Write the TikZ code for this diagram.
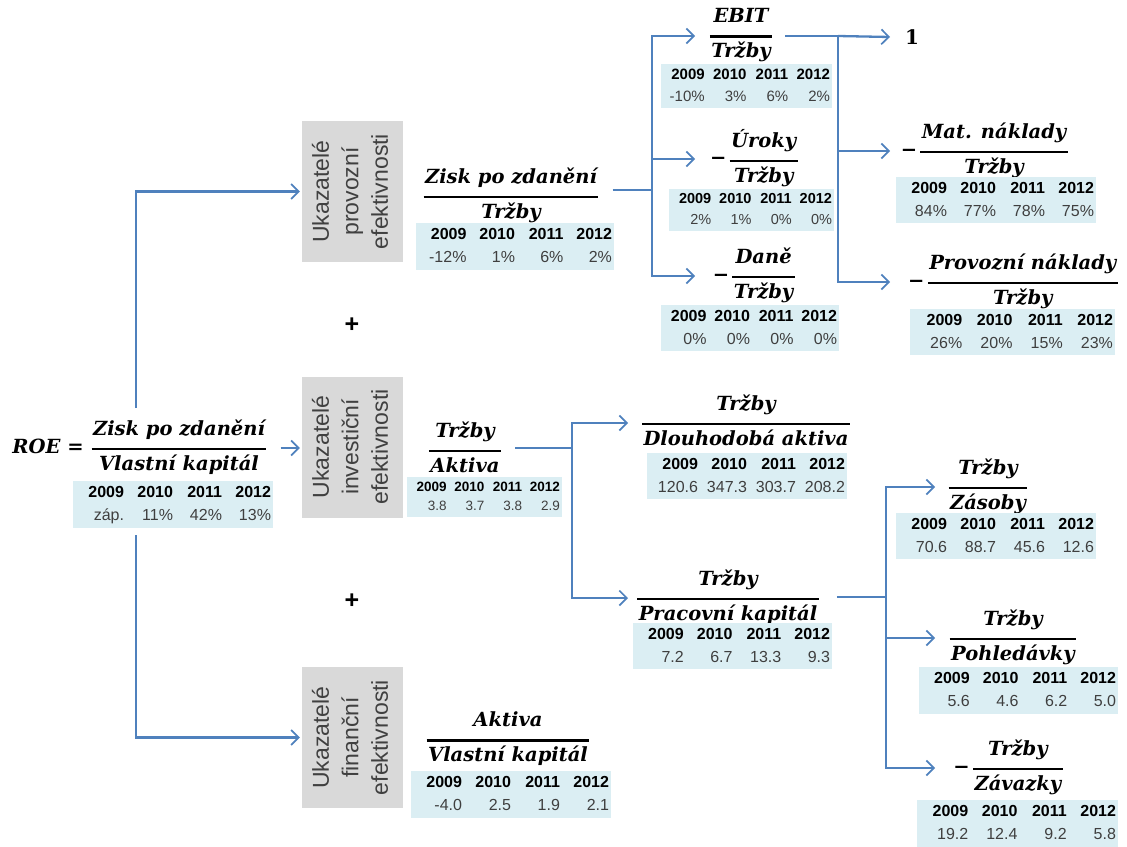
\documentclass[tikz,border=0pt]{standalone}
\usepackage{fontspec}
\usepackage{graphicx}
\setmainfont{Liberation Sans}
\newfontfamily\fracfont{DejaVu Serif}
\usetikzlibrary{arrows.meta}

\definecolor{linkblue}{HTML}{4F81BD}
\definecolor{tabblue}{HTML}{DBEEF3}
\definecolor{boxgray}{HTML}{D9D9D9}
\definecolor{valgray}{HTML}{3F3F3F}
\definecolor{boxtext}{HTML}{404040}

% serif bold italic used for all ratios
\newcommand\ffs{\fracfont\bfseries\itshape\fontsize{19.5}{21}\selectfont}
% a ratio: numerator over a thick bar over denominator
\newcommand\fr[2]{{\setlength\arrayrulewidth{2.5pt}\renewcommand\arraystretch{1}%
  \begin{tabular}{@{\hspace{1.5pt}}c@{\hspace{1.5pt}}}#1\\[6pt]\hline\rule{0pt}{20pt}#2\end{tabular}}}
% one row of four right-aligned cells
\newcommand\yrs[5]{\makebox[#1][r]{#2}\makebox[#1][r]{#3}\makebox[#1][r]{#4}\makebox[#1][r]{#5}}
% yearly values: name, centre, width, height, font size, four values
\newcommand\datatab[9]{%
  \pgfmathsetmacro\tabcw{(#3-4)/4}%
  \pgfmathsetmacro\tabbs{1.45*#5}%
  \node[tabbox, minimum width=#3pt, minimum height=#4pt] (#1) at (#2)
    {\fontsize{#5}{\tabbs}\selectfont\begin{tabular}{@{}l@{}}\bfseries\yrs{\tabcw pt}{2009}{2010}{2011}{2012}\\
     \color{valgray}\yrs{\tabcw pt}{#6}{#7}{#8}{#9}\end{tabular}};}
% label of a gray group box, set upright along the box
\newcommand\grouplabel[3]{\rotatebox{90}{\begin{tabular}{@{}c@{}}#1\\#2\\#3\end{tabular}}}

\tikzset{
  tabbox/.style={fill=tabblue, inner sep=0pt},
  grbox/.style={fill=boxgray, inner sep=0pt, minimum width=101pt, minimum height=141pt,
    text=boxtext, font=\fontsize{23}{29.5}\selectfont},
  ratio/.style={inner sep=0pt, font=\ffs},
  conn/.style={draw=linkblue, line width=2.3pt},
  arr/.style={conn, -{Straight Barb[length=7.5pt,width=15pt,line width=1.7pt]}},
  plus/.style={font=\bfseries\fontsize{25}{25}\selectfont},
}

\begin{document}
\begin{tikzpicture}[x=1pt,y=-1pt]
\useasboundingbox (0,0) rectangle (1127,846);

% x positions where the arrow tips of each fan-out end
\coordinate (tipA) at (695,0);
\coordinate (tipB) at (890,0);
\coordinate (tipC) at (628,0);
\coordinate (tipD) at (935,0);

% ---- ROE ----
\node[ratio] (roelbl) at (48,446) {\textit{ROE} \upshape=};
\node[ratio] (roefrac) at (179,448) {\fr{Zisk po zdanění}{Vlastní kapitál}};
\datatab{roetab}{173,504.5}{200}{47}{16}{záp.}{11\%}{42\%}{13\%}

% ---- group boxes ----
\node[grbox] (box1) at (352.5,191.5) {\grouplabel{Ukazatelé}{provozní}{efektivnosti}};
\node[grbox] (box2) at (352.5,447) {\grouplabel{Ukazatelé}{investiční}{efektivnosti}};
\node[grbox] (box3) at (352.5,737.5) {\grouplabel{Ukazatelé}{finanční}{efektivnosti}};
\node[plus] (plus1) at (352,325) {+};
\node[plus] (plus2) at (352,601) {+};

\coordinate (roeTop) at (136,408);
\coordinate (roeBot) at (136,535);
\draw[arr, shorten >=2pt] (roeTop) |- (box1.west);
\draw[arr, shorten >=2pt] (roeBot) |- (box3.west);
\draw[arr, shorten <=14pt, shorten >=2pt] (roefrac.east) -- (box2.west |- roefrac.east);

% ---- operating efficiency ----
\node[ratio] (f1) at (511,196) {\fr{Zisk po zdanění}{Tržby}};
\datatab{t1}{515,246.5}{198}{43}{16}{-12\%}{1\%}{6\%}{2\%}

\node[ratio] (ebit) at (741,36) {\fr{EBIT}{Tržby}};
\datatab{tebit}{746.5,86}{171}{36}{15}{-10\%}{3\%}{6\%}{2\%}
\node[ratio, anchor=east] (urok) at (798,159) {−\,\fr{Úroky}{Tržby}};
\datatab{turok}{751.5,210}{165}{40}{14.5}{2\%}{1\%}{0\%}{0\%}
\node[ratio, anchor=east] (dane) at (795,276) {−\,\fr{Daně}{Tržby}};
\datatab{tdane}{750,328}{178}{40}{16}{0\%}{0\%}{0\%}{0\%}

\node[ratio, font=\fracfont\bfseries\fontsize{20}{21}\selectfont] (one) at (912,37) {1};
\node[ratio, anchor=east] (mat) at (1068,151) {−\,\fr{Mat. náklady}{Tržby}};
\datatab{tmat}{996,200}{200}{44}{16}{84\%}{77\%}{78\%}{75\%}
\node[ratio, anchor=east] (prov) at (1118,282) {−\,\fr{Provozní náklady}{Tržby}};
\datatab{tprov}{1012.5,332}{205}{44}{16}{26\%}{20\%}{15\%}{23\%}

\coordinate (j1) at (652,190);
\draw[conn, shorten <=14pt] (f1.east |- j1) -- (j1);
\draw[arr] (j1) |- (tipA |- ebit.west);
\draw[arr] (j1) |- (tipA |- urok.west);
\draw[arr] (j1) |- (tipA |- dane.west);

\coordinate (j2) at (838,36);
\draw[conn, shorten <=13pt] (ebit.east) -- (j2);
\draw[arr] (j2) -- (tipB |- one.west);
\draw[arr] (j2) |- (tipB |- mat.west);
\draw[arr, line width=1.7pt] (j2) |- (tipB |- prov.west);

% ---- investment efficiency ----
\node[ratio] (f2) at (465,450) {\fr{Tržby}{Aktiva}};
\datatab{t2}{484.5,497}{155}{36}{13.5}{3.8}{3.7}{3.8}{2.9}

\node[ratio] (dl) at (746,423) {\fr{Tržby}{Dlouhodobá aktiva}};
\datatab{tdl}{747,476}{200}{42}{16}{120.6}{347.3}{303.7}{208.2}
\node[ratio] (pk) at (728,598) {\fr{Tržby}{Pracovní kapitál}};
\datatab{tpk}{732.5,646}{199}{44}{16}{7.2}{6.7}{13.3}{9.3}

\coordinate (j3) at (572,448);
\draw[conn, shorten <=14pt] (f2.east |- j3) -- (j3);
\draw[arr] (j3) |- (tipC |- dl.west);
\draw[arr] (j3) |- (tipC |- pk.west);

\node[ratio] (zas) at (988,487) {\fr{Tržby}{Zásoby}};
\datatab{tzas}{996,536}{200}{44}{16}{70.6}{88.7}{45.6}{12.6}
\node[ratio] (pohl) at (1013,638) {\fr{Tržby}{Pohledávky}};
\datatab{tpohl}{1018.5,690.5}{199}{47}{16}{5.6}{4.6}{6.2}{5.0}
\node[ratio, anchor=east] (zav) at (1063,768) {−\,\fr{Tržby}{Závazky}};
\datatab{tzav}{1017.5,823.5}{201}{45}{16}{19.2}{12.4}{9.2}{5.8}

\coordinate (j4) at (886,597);
\draw[conn, shorten <=18pt] (pk.east |- j4) -- (j4);
\draw[arr] (j4) |- (tipD |- zas.west);
\draw[arr, line width=1.7pt] (j4) |- (tipD |- pohl.west);
\draw[arr] (j4) |- (tipD |- zav.west);

% ---- financial efficiency ----
\node[ratio] (f3) at (508,740) {\fr{Aktiva}{Vlastní kapitál}};
\datatab{t3}{511,794.5}{200}{47}{16}{-4.0}{2.5}{1.9}{2.1}
\end{tikzpicture}
\end{document}
